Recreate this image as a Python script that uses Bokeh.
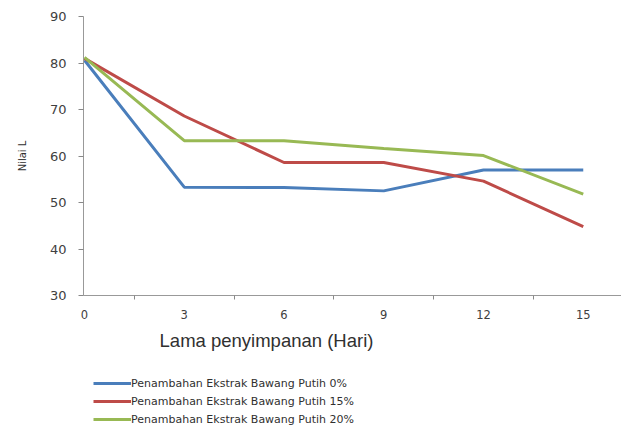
from bokeh.plotting import figure
from bokeh.layouts import column
from bokeh.models import Range1d, FixedTicker, Legend, LegendItem
from bokeh.core.properties import value
from bokeh.embed import file_html
from bokeh.resources import INLINE

days = [0, 3, 6, 9, 12, 15]
series_0 = [80.6, 53.3, 53.2, 52.5, 57.0, 57.0]
series_15 = [81.0, 68.6, 58.6, 58.6, 54.6, 44.8]
series_20 = [81.2, 63.3, 63.3, 61.6, 60.1, 51.8]
names = ["Penambahan Ekstrak Bawang Putih 0%",
         "Penambahan Ekstrak Bawang Putih 15%",
         "Penambahan Ekstrak Bawang Putih 20%"]
colors = ["#4A7EBB", "#BE4B48", "#98B954"]
y_ticks = [30, 40, 50, 60, 70, 80, 90]
x_label = "Lama penyimpanan (Hari)"
y_label = "Nilai L"

# ---- main chart ----
p = figure(width=621, height=330, output_backend="svg", toolbar_location=None,
           x_range=Range1d(-0.03, 16.15), y_range=Range1d(30, 90),
           min_border_left=83, min_border_right=0, min_border_top=16,
           min_border_bottom=35)
p.outline_line_color = None
p.grid.grid_line_color = None

all_series = [series_0, series_15, series_20]
for ys, c in zip(all_series, colors):
    p.line(days, ys, line_color=c, line_width=3)

p.xaxis.ticker = FixedTicker(ticks=days, minor_ticks=[d + 1.5 for d in days[:-1]])
p.xaxis.major_tick_out = 0
p.xaxis.major_tick_in = 0
p.xaxis.minor_tick_out = 4
p.xaxis.minor_tick_in = 0
p.xaxis.minor_tick_line_color = "#888888"
p.xaxis.axis_line_color = "#999999"
p.xaxis.major_label_text_font = "DejaVu Sans"
p.xaxis.major_label_text_font_size = "11.5px"
p.xaxis.major_label_text_color = "#404040"
p.xaxis.major_label_standoff = 10

p.yaxis.ticker = FixedTicker(ticks=y_ticks)
p.yaxis.major_tick_out = 5
p.yaxis.major_tick_in = 0
p.yaxis.minor_tick_out = 0
p.yaxis.minor_tick_in = 0
p.yaxis.axis_line_color = "#999999"
p.yaxis.major_tick_line_color = "#888888"
p.yaxis.major_label_text_font = "DejaVu Sans"
p.yaxis.major_label_text_font_size = "13px"
p.yaxis.major_label_text_color = "#404040"
p.yaxis.major_label_standoff = 12
p.yaxis.axis_label = y_label
p.yaxis.axis_label_text_font = "DejaVu Sans"
p.yaxis.axis_label_text_font_size = "10px"
p.yaxis.axis_label_text_font_style = "normal"
p.yaxis.axis_label_text_color = "#303030"
p.yaxis.axis_label_standoff = 19

# ---- lower panel: x-axis title and legend ----
# its frame is aligned with the main frame (x = 83 .. 621 on the page)
q = figure(width=621, height=97, output_backend="svg", toolbar_location=None,
           x_range=Range1d(83, 621), y_range=Range1d(97, 0),
           x_axis_location=None, y_axis_location=None,
           min_border_left=83, min_border_right=0, min_border_top=0,
           min_border_bottom=0)
q.grid.grid_line_color = None
q.outline_line_color = None

q.text(x=[266], y=[10], text=[x_label], text_font=value("Liberation Sans"),
       text_font_size="18.5px", text_color="#303030",
       text_align="center", text_baseline="middle")

# legend sample renderers (their data lie outside this panel's view)
items = []
for n, c, ys in zip(names, colors, all_series):
    r = q.line(x=days, y=ys, line_color=c, line_width=3)
    items.append(LegendItem(label=n, renderers=[r]))

legend = Legend(items=items, location=(10, 1), orientation="vertical",
                glyph_width=38, glyph_height=14, label_standoff=0, spacing=4,
                label_text_font="DejaVu Sans", label_text_font_size="11px",
                label_text_color="#303030", border_line_color=None,
                background_fill_alpha=0, padding=2, margin=0)
q.add_layout(legend)

layout = column(p, q, spacing=0)
open("out.html", "w").write(file_html(layout, INLINE))
